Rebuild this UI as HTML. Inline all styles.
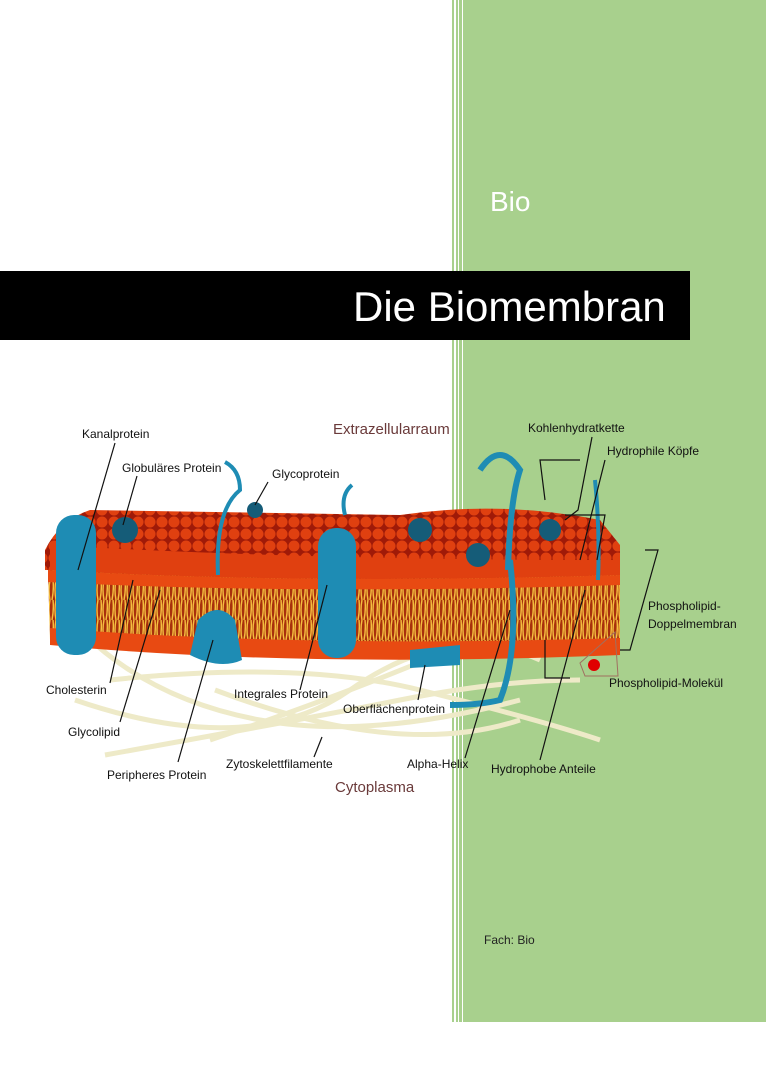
<!DOCTYPE html>
<html><head><meta charset="utf-8"><style>
body{margin:0;width:768px;height:1087px;background:#fff;position:relative;overflow:hidden;font-family:"Liberation Sans",sans-serif}
.g{position:absolute;left:463px;top:0;width:303px;height:1022px;background:#a8d08d}
.s{position:absolute;top:0;height:1022px;width:2px;background:#a8d08d}
.ban{position:absolute;left:0;top:271px;width:690px;height:69px;background:#000}
.t{position:absolute;color:#fff;font-family:"Liberation Sans",sans-serif}
</style></head><body>
<div class="g"></div>
<div class="s" style="left:452px"></div><div class="s" style="left:456px"></div><div class="s" style="left:459px;width:3px"></div>
<div class="t" style="left:490px;top:186px;font-size:28px">Bio</div>
<div class="ban"></div>
<div class="t" style="left:353px;top:283px;font-size:42px">Die Biomembran</div>
<div style="position:absolute;left:484px;top:933px;font-size:12px;color:#222">Fach: Bio</div>
<svg style="position:absolute;left:0;top:0" width="768" height="1087" font-family="Liberation Sans,sans-serif" font-size="12">
<defs>
<pattern id="heads" width="12" height="12" patternUnits="userSpaceOnUse"><rect width="12" height="12" fill="#a01a08"/><circle cx="6" cy="6" r="5.5" fill="#e04010"/></pattern>
<pattern id="tails" width="6" height="20" patternUnits="userSpaceOnUse"><rect width="6" height="20" fill="#a8300c"/><path d="M2 0 Q0 10 2 20 M5 0 Q6 10 4 20" stroke="#f5c040" stroke-width="1.4" fill="none"/></pattern>
</defs>
<g stroke="#eeeac8" stroke-width="5" fill="none">
<path d="M80 630 Q150 700 260 720 T520 700"/>
<path d="M110 680 Q300 660 420 690 T600 740"/>
<path d="M210 740 Q330 700 450 650"/>
<path d="M75 700 Q250 760 350 690 T540 660"/>
<path d="M105 755 Q300 720 400 700 T580 680"/>
<path d="M215 690 Q400 760 520 720"/>
</g>
<path d="M45 550 Q60 520 90 510 L400 515 Q500 500 600 520 L620 545 L620 575 L45 570Z" fill="url(#heads)"/>
<path d="M50 545 Q300 560 620 560 L620 590 L50 580Z" fill="#e04010"/>
<path d="M48 570 Q300 585 620 575 L620 650 Q300 665 50 640Z" fill="url(#tails)"/>
<path d="M48 570 Q300 585 620 575 L620 585 Q300 595 48 582Z" fill="#e84a12"/>
<path d="M50 628 Q300 648 620 638 L620 655 Q300 668 50 645Z" fill="#e84a12"/>
<g fill="#1e8cb4">
<rect x="56" y="515" width="40" height="140" rx="18"/>
<path d="M198 620 Q218 600 235 620 L242 660 Q220 670 190 655Z"/>
<rect x="318" y="528" width="38" height="130" rx="18"/>
<path d="M410 650 L460 645 L460 665 L410 668Z"/>
<path d="M508 570 Q510 500 520 470 Q500 440 480 470" stroke="#1e8cb4" stroke-width="6" fill="none"/>
<path d="M510 560 Q520 650 500 700 Q480 705 450 705" stroke="#1e8cb4" stroke-width="6" fill="none"/>
</g>
<g fill="#155c78"><circle cx="125" cy="530" r="13"/><circle cx="255" cy="510" r="8"/><circle cx="420" cy="530" r="12"/><circle cx="550" cy="530" r="11"/><circle cx="478" cy="555" r="12"/></g>
<g stroke="#1e8cb4" stroke-width="4" fill="none"><path d="M218 575 Q215 510 240 490 Q240 470 225 462"/><path d="M345 515 Q340 495 352 485"/><path d="M598 580 Q600 530 595 480"/></g>
<g fill="#111" font-size="12">
<text x="82" y="438">Kanalprotein</text><text x="122" y="472">Globuläres Protein</text><text x="272" y="478">Glycoprotein</text>
<text x="333" y="434" fill="#6a3a3a" font-size="15">Extrazellularraum</text>
<text x="528" y="432">Kohlenhydratkette</text><text x="607" y="455">Hydrophile Köpfe</text>
<text x="648" y="610">Phospholipid-</text><text x="648" y="628">Doppelmembran</text>
<text x="609" y="687">Phospholipid-Molekül</text>
<text x="46" y="694">Cholesterin</text><text x="68" y="736">Glycolipid</text>
<text x="234" y="698">Integrales Protein</text><text x="343" y="713">Oberflächenprotein</text>
<text x="107" y="779">Peripheres Protein</text><text x="226" y="768">Zytoskelettfilamente</text>
<text x="407" y="768">Alpha-Helix</text><text x="491" y="773">Hydrophobe Anteile</text>
<text x="335" y="792" fill="#6a3a3a" font-size="15">Cytoplasma</text>
</g>
<g stroke="#111" stroke-width="1.2" fill="none">
<path d="M115 443 L78 570"/><path d="M137 476 L123 525"/><path d="M268 482 L255 505"/>
<path d="M110 683 L133 580"/><path d="M120 722 L160 590"/><path d="M178 762 L213 640"/>
<path d="M300 690 L327 585"/><path d="M418 700 L425 665"/><path d="M314 757 L322 737"/>
<path d="M465 758 L510 610"/><path d="M540 760 L585 590"/>
<path d="M592 437 L578 510 L565 520"/><path d="M580 460 L540 460 L545 500"/>
<path d="M605 460 L580 560"/><path d="M565 515 L605 515 L597 560"/>
<path d="M645 550 L658 550 L630 650 L620 650"/>
<path d="M545 640 L545 678 L570 678"/>
</g>
<path d="M580 663 L615 632 L618 676 L585 676Z" stroke="#a07060" fill="none"/>
<circle cx="594" cy="665" r="6" fill="#e00000"/>
</svg>
</body></html>
